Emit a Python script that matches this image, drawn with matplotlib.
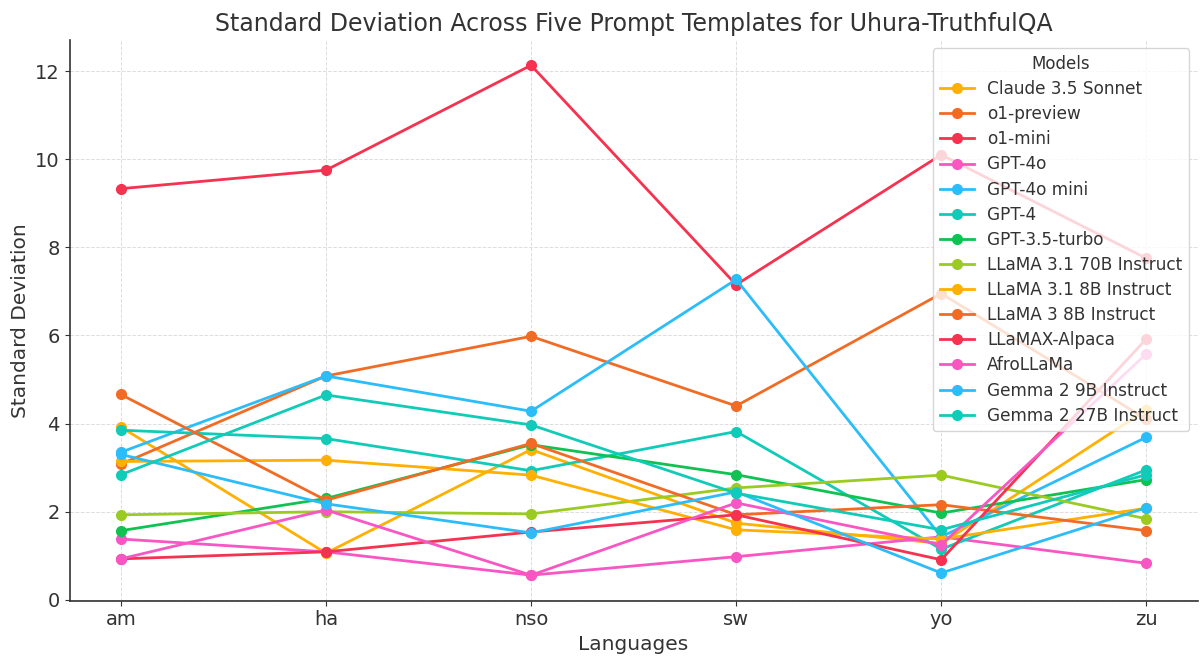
import numpy as np
import matplotlib
matplotlib.use("Agg")
import matplotlib.pyplot as plt

# ============================================================
# DATA
# ============================================================

languages = ["am", "ha", "nso", "sw", "yo", "zu"]

models = [
    "Claude 3.5 Sonnet",
    "o1-preview",
    "o1-mini",
    "GPT-4o",
    "GPT-4o mini",
    "GPT-4",
    "GPT-3.5-turbo",
    "LLaMA 3.1 70B Instruct",
    "LLaMA 3.1 8B Instruct",
    "LLaMA 3 8B Instruct",
    "LLaMAX-Alpaca",
    "AfroLLaMa",
    "Gemma 2 9B Instruct",
    "Gemma 2 27B Instruct",
]

claude_35_sonnet = [3.92, 1.06, 3.41, 1.74, 1.28, 4.31]
o1_preview = [3.08, 5.08, 5.98, 4.40, 6.95, 4.10]
o1_mini = [9.33, 9.75, 12.13, 7.15, 10.10, 7.75]
gpt_4o = [1.38, 1.09, 0.56, 0.98, 1.43, 0.83]
gpt_4o_mini = [3.35, 5.08, 4.28, 7.27, 1.43, 3.69]
gpt_4 = [3.85, 3.66, 2.93, 3.82, 1.15, 2.95]
gpt_35_turbo = [1.57, 2.30, 3.52, 2.84, 1.97, 2.73]
llama_31_70b = [1.93, 2.00, 1.95, 2.54, 2.83, 1.84]
llama_31_8b = [3.14, 3.17, 2.83, 1.59, 1.38, 2.08]
llama_3_8b = [4.66, 2.26, 3.55, 1.93, 2.16, 1.57]
llamax_alpaca = [0.93, 1.09, 1.54, 1.93, 0.91, 5.92]
afrollama = [0.93, 2.04, 0.56, 2.20, 1.25, 5.58]
gemma_2_9b = [3.30, 2.18, 1.52, 2.45, 0.61, 2.09]
gemma_2_27b = [2.84, 4.65, 3.97, 2.42, 1.59, 2.84]

values = [
    claude_35_sonnet, o1_preview, o1_mini, gpt_4o, gpt_4o_mini, gpt_4,
    gpt_35_turbo, llama_31_70b, llama_31_8b, llama_3_8b, llamax_alpaca,
    afrollama, gemma_2_9b, gemma_2_27b,
]

palette = ["#FFB000", "#F26B24", "#F5324F", "#F756C3",
           "#2BBDF9", "#10CBB8", "#10C251", "#9BCB22"]

# ============================================================
# PLOT
# ============================================================

fig = plt.figure(figsize=(12, 6.63), dpi=100)
ax = fig.add_axes([0.058, 0.094, 0.94, 0.846])

x = np.arange(len(languages))

for i, (name, vals) in enumerate(zip(models, values)):
    ax.plot(
        x,
        vals,
        marker="o",
        markersize=7,
        linewidth=2,
        color=palette[i % len(palette)],
        label=name,
    )

ax.set_xticks(x)
ax.set_xticklabels(languages)

ax.set_title(
    "Standard Deviation Across Five Prompt Templates for Uhura-TruthfulQA",
    fontsize=17,
    color="#333333",
)
ax.set_xlabel("Languages", fontsize=14.5, color="#333333")
ax.set_ylabel("Standard Deviation", fontsize=14.5, color="#333333")

ax.tick_params(axis="both", labelsize=14, colors="#333333")

ax.grid(True, linestyle="--", linewidth=0.7, color="#dddddd")
ax.set_axisbelow(True)

for side in ["top", "right"]:
    ax.spines[side].set_visible(False)
for side in ["left", "bottom"]:
    ax.spines[side].set_color("#333333")
    ax.spines[side].set_linewidth(1.2)

legend = ax.legend(
    title="Models",
    loc="upper right",
    fontsize=12.2,
    title_fontsize=12,
    labelspacing=0.42,
    framealpha=0.8,
)
for text in legend.get_texts():
    text.set_color("#333333")
legend.get_title().set_color("#333333")

fig.savefig("out.png", dpi=100)
